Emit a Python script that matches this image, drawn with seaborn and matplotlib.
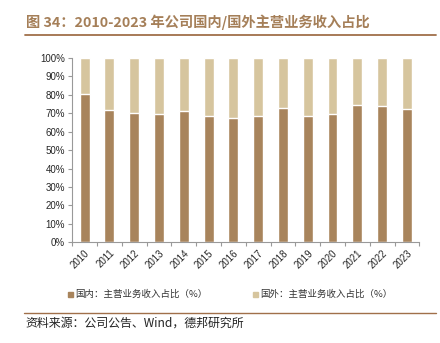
import matplotlib
matplotlib.use("Agg")
import matplotlib.pyplot as plt
import seaborn as sns
import pandas as pd
import numpy as np
from matplotlib.lines import Line2D
from matplotlib.patches import Rectangle

years = ["2010", "2011", "2012", "2013", "2014", "2015", "2016",
         "2017", "2018", "2019", "2020", "2021", "2022", "2023"]
domestic = [80.3, 71.6, 70.3, 69.8, 71.4, 68.5, 67.6, 68.7, 72.9, 68.4, 69.8, 74.7, 73.8, 72.5]
foreign = [100 - d for d in domestic]
series_names = ["国内：主营业务收入占比（%）", "国外：主营业务收入占比（%）"]
yticks = [0, 10, 20, 30, 40, 50, 60, 70, 80, 90, 100]
title = "图 34：2010-2023 年公司国内/国外主营业务收入占比"
source = "资料来源：公司公告、Wind，德邦研究所"

sns.set_style("white")
plt.rcParams['font.family'] = ['Noto Sans CJK SC', 'DejaVu Sans']

c_dom = "#A8845C"
c_for = "#D6C59E"
c_title = "#A57F58"

fig = plt.figure(figsize=(4.4, 3.43), dpi=100)
ax = fig.add_axes([0.164, 0.2936, 0.789, 0.5374])

df = pd.DataFrame({"year": years, "dom": domestic, "total": [d + f for d, f in zip(domestic, foreign)]})
sns.barplot(data=df, x="year", y="total", color=c_for, width=0.4, ax=ax, saturation=1)
sns.barplot(data=df, x="year", y="dom", color=c_dom, width=0.4, ax=ax, saturation=1)

ax.set_ylim(0, 100)
ax.set_xlim(-0.5, len(years) - 0.5)
ax.set_yticks(yticks)
ax.set_yticklabels([f"{v}%" for v in yticks], fontsize=7, family=['Liberation Sans', 'DejaVu Sans'])
ax.set_xticks(range(len(years)))
ax.set_xticklabels(years, rotation=45, fontsize=7, family=['Liberation Sans', 'DejaVu Sans'],
                   ha='right', rotation_mode='anchor')
ax.set_xlabel("")
ax.set_ylabel("")
for s in ["top", "right"]:
    ax.spines[s].set_visible(False)
for s in ["left", "bottom"]:
    ax.spines[s].set_color("#999999")
    ax.spines[s].set_linewidth(0.8)
ax.tick_params(axis='y', length=3, color="#999999", width=0.8, pad=2, left=True)
ax.tick_params(axis='x', length=0, pad=4, bottom=True)
ax.set_xticks(np.arange(-0.5, len(years), 1), minor=True)
ax.tick_params(axis='x', which='minor', length=3, color="#999999", width=0.8, bottom=True)

# Title
fig.text(26 / 440, 1 - 22 / 343, title, fontsize=10.3, fontweight='bold', color=c_title,
         va='center', ha='left')
fig.add_artist(Line2D([25 / 440, 436 / 440], [1 - 35 / 343, 1 - 35 / 343],
                      color="#A0704A", lw=1.3, transform=fig.transFigure))

# Legend
leg_y = 1 - 294 / 343
for x0, col, name in [(68, c_dom, series_names[0]), (253, c_for, series_names[1])]:
    fig.add_artist(Rectangle((x0 / 440, leg_y - 2.5 / 343), 5 / 440, 5 / 343,
                             color=col, transform=fig.transFigure))
    fig.text((x0 + 7) / 440, leg_y, name, fontsize=6.8, va='center', ha='left', color="#333333")

# Footer
fig.add_artist(Line2D([24 / 440, 436 / 440], [1 - 313 / 343, 1 - 313 / 343],
                      color="#A0704A", lw=1.0, transform=fig.transFigure))
fig.text(25 / 440, 1 - 323 / 343, source, fontsize=8.6, va='center', ha='left', color="#222222")

fig.savefig("out.png", dpi=100)
